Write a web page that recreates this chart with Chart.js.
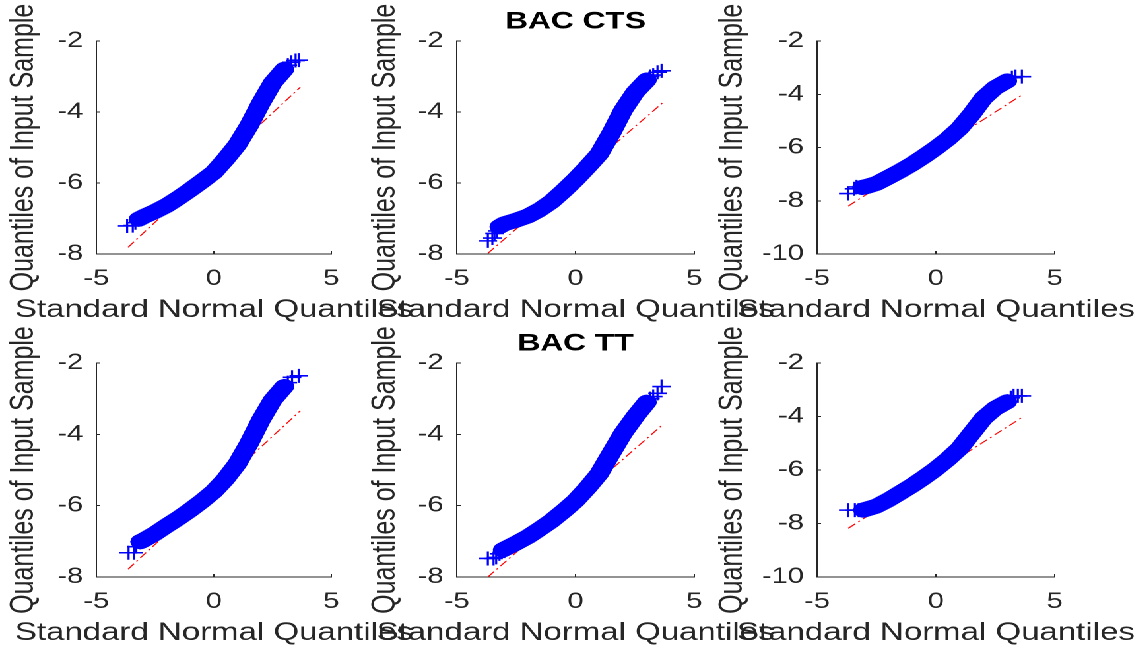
<!DOCTYPE html>
<html>
<head>
<meta charset="utf-8">
<script src="https://cdn.jsdelivr.net/npm/chart.js@4/dist/chart.umd.min.js"></script>
<style>
  html, body { margin: 0; padding: 0; background: #ffffff; overflow: hidden; }
  body { width: 1140px; height: 646px; position: relative; }
  #stage { position: absolute; left: 0; top: 0; height: 646px; transform-origin: 0 0; }
  #stage canvas { position: absolute; }
</style>
</head>
<body>
<div id="stage"></div>
<script>
// ---------------- data ----------------
const xTicks  = [-5, 0, 5];
const yTicks8 = [-8, -6, -4, -2];
const yTicks10 = [-10, -8, -6, -4, -2];
const panelTitles = ['', 'BAC CTS', '', '', 'BAC TT', ''];
const xLabel = 'Standard Normal Quantiles';
const yLabel = 'Quantiles of Input Sample';

// panel 1 (top-left)
const bandX1 = [-3.2, -3.0, -2.5, -2.0, -1.5, -1.0, -0.5, 0, 0.5, 1.0, 1.5, 2.0, 2.5, 3.0];
const bandY1 = [-7.02, -6.95, -6.80, -6.63, -6.42, -6.19, -5.95, -5.70, -5.33, -4.92, -4.38, -3.75, -3.18, -2.80];
const tailX1 = [-3.69, -3.45, -3.34, 3.15, 3.30, 3.48, 3.61];
const tailY1 = [-7.21, -7.20, -7.12, -2.68, -2.60, -2.55, -2.54];
const refX1 = [-3.65, 3.68], refY1 = [-7.81, -3.30];

// panel 2 (top-middle, BAC CTS)
const bandX2 = [-3.2, -3.0, -2.5, -2.0, -1.5, -1.0, -0.5, 0, 0.5, 1.0, 1.5, 2.0, 2.5, 3.0];
const bandY2 = [-7.23, -7.15, -7.05, -6.93, -6.75, -6.52, -6.22, -5.90, -5.55, -5.18, -4.60, -3.95, -3.45, -3.10];
const tailX2 = [-3.69, -3.50, -3.41, -3.30, 3.15, 3.27, 3.45, 3.62];
const tailY2 = [-7.63, -7.55, -7.42, -7.35, -3.00, -2.96, -2.88, -2.84];
const refX2 = [-3.69, 3.65], refY2 = [-7.98, -3.75];

// panel 3 (top-right)
const bandX3 = [-3.1, -2.9, -2.5, -2.0, -1.5, -1.0, -0.5, 0, 0.5, 1.0, 1.5, 2.0, 2.5, 3.0];
const bandY3 = [-7.50, -7.46, -7.35, -7.12, -6.88, -6.62, -6.33, -6.02, -5.68, -5.28, -4.75, -4.15, -3.75, -3.50];
const tailX3 = [-3.69, -3.45, -3.34, 3.20, 3.35, 3.62];
const tailY3 = [-7.73, -7.55, -7.48, -3.38, -3.34, -3.34];
const refX3 = [-3.69, 3.67], refY3 = [-8.20, -4.00];

// panel 4 (bottom-left)
const bandX4 = [-3.13, -3.0, -2.5, -2.0, -1.5, -1.0, -0.5, 0, 0.5, 1.0, 1.5, 2.0, 2.5, 3.0];
const bandY4 = [-7.01, -6.97, -6.78, -6.56, -6.35, -6.12, -5.87, -5.60, -5.25, -4.82, -4.25, -3.60, -3.04, -2.66];
const tailX4 = [-3.63, -3.41, -3.30, 3.15, 3.33, 3.61];
const tailY4 = [-7.32, -7.32, -7.15, -2.55, -2.40, -2.36];
const refX4 = [-3.65, 3.68], refY4 = [-7.78, -3.34];

// panel 5 (bottom-middle, BAC TT)
const bandX5 = [-3.06, -2.5, -2.0, -1.5, -1.0, -0.5, 0, 0.5, 1.0, 1.5, 2.0, 2.5, 3.0];
const bandY5 = [-7.24, -7.05, -6.87, -6.65, -6.42, -6.15, -5.86, -5.50, -5.10, -4.53, -3.97, -3.51, -3.10];
const tailX5 = [-3.69, -3.45, -3.34, -3.20, 3.15, 3.27, 3.45, 3.62];
const tailY5 = [-7.48, -7.48, -7.45, -7.35, -3.00, -2.94, -2.85, -2.66];
const refX5 = [-3.69, 3.65], refY5 = [-8.00, -3.74];

// panel 6 (bottom-right)
const bandX6 = [-3.06, -2.5, -2.0, -1.5, -1.0, -0.5, 0, 0.5, 1.0, 1.5, 2.0, 2.5, 3.0];
const bandY6 = [-7.50, -7.35, -7.12, -6.85, -6.58, -6.28, -5.96, -5.60, -5.19, -4.63, -4.07, -3.69, -3.45];
const tailX6 = [-3.69, -3.41, -3.25, 3.15, 3.27, 3.45, 3.62];
const tailY6 = [-7.50, -7.50, -7.50, -3.30, -3.23, -3.23, -3.23];
const refX6 = [-3.69, 3.67], refY6 = [-8.18, -4.01];

// ---------------- layout / style ----------------
const SX = 1.32;                 // the reference is rendered horizontally stretched
const STAGE_W = 1140 / SX;
const rows = [{ T: 41, B: 254 }, { T: 363, B: 577 }];
const cols = [{ L: 73, R: 251, D: 55 }, { L: 346, R: 526, D: 54 }, { L: 619, R: 799, D: 64 }];
const PT = 40, PR = 62, HX = 71, TITLE_H = 33;
const FONT = "'Liberation Sans', Arial, Helvetica, sans-serif";
const AXIS = '#262626';

const pts = (xs, ys) => xs.map((x, i) => ({ x: x, y: ys[i] }));

const panels = [
  { bx: bandX1, by: bandY1, tx: tailX1, ty: tailY1, rx: refX1, ry: refY1, yt: yTicks8 },
  { bx: bandX2, by: bandY2, tx: tailX2, ty: tailY2, rx: refX2, ry: refY2, yt: yTicks8 },
  { bx: bandX3, by: bandY3, tx: tailX3, ty: tailY3, rx: refX3, ry: refY3, yt: yTicks10 },
  { bx: bandX4, by: bandY4, tx: tailX4, ty: tailY4, rx: refX4, ry: refY4, yt: yTicks8 },
  { bx: bandX5, by: bandY5, tx: tailX5, ty: tailY5, rx: refX5, ry: refY5, yt: yTicks8 },
  { bx: bandX6, by: bandY6, tx: tailX6, ty: tailY6, rx: refX6, ry: refY6, yt: yTicks10 }
];

// let long axis titles overflow their axis instead of being squeezed
const noSqueeze = {
  id: 'noSqueeze',
  beforeDraw(chart) {
    const ctx = chart.ctx;
    if (!ctx.__noSqueeze) {
      const orig = ctx.fillText;
      ctx.fillText = function (t, x, y) { return orig.call(this, t, x, y); };
      ctx.__noSqueeze = true;
    }
  }
};

const stage = document.getElementById('stage');
stage.style.width = STAGE_W + 'px';
stage.style.transform = 'scaleX(' + SX + ')';

panels.forEach((p, i) => {
  const r = rows[Math.floor(i / 3)], c = cols[i % 3];
  const title = panelTitles[i];
  const tb = title ? TITLE_H : 0;
  const WY = c.D + 15;
  const left = c.L - WY, top = r.T - PT - tb;
  const w = WY + (c.R - c.L) + PR, h = tb + PT + (r.B - r.T) + HX;

  const cv = document.createElement('canvas');
  cv.width = w; cv.height = h;
  cv.style.left = left + 'px'; cv.style.top = top + 'px';
  cv.style.width = w + 'px'; cv.style.height = h + 'px';
  stage.appendChild(cv);

  new Chart(cv.getContext('2d'), {
    type: 'scatter',
    data: {
      datasets: [
        { data: pts(p.bx, p.by), showLine: true, borderColor: '#0000ff', borderWidth: 15,
          borderJoinStyle: 'round', borderCapStyle: 'round',
          pointStyle: 'cross', pointRadius: 7.5, pointBorderWidth: 1.5, pointBorderColor: '#0000ff' },
        { data: pts(p.tx, p.ty), showLine: false,
          pointStyle: 'cross', pointRadius: 7, pointBorderWidth: 1.6, pointBorderColor: '#0000ff', pointBackgroundColor: '#0000ff' },
        { data: pts(p.rx, p.ry), showLine: true, borderColor: '#ff0000', borderWidth: 1,
          borderDash: [7, 3, 1.5, 3], pointRadius: 0 }
      ]
    },
    options: {
      responsive: false,
      animation: false,
      devicePixelRatio: 2,
      events: [],
      layout: { padding: { left: 0, top: PT, right: PR, bottom: 0 } },
      plugins: {
        legend: { display: false },
        tooltip: { enabled: false },
        title: {
          display: !!title, text: title, fullSize: false, color: '#000000',
          font: { family: FONT, size: 24, weight: 'bold', lineHeight: '28px' },
          padding: { top: 0, bottom: 5 }
        }
      },
      scales: {
        x: {
          type: 'linear', position: 'bottom', min: -5, max: 5,
          afterBuildTicks: s => { s.ticks = xTicks.map(v => ({ value: v })); },
          afterFit: s => { s.height = HX; },
          grid: { display: true, drawOnChartArea: false, drawTicks: true, tickLength: -3, color: AXIS, lineWidth: 1 },
          border: { display: true, color: AXIS, width: 1 },
          ticks: { color: AXIS, padding: 15, maxRotation: 0, font: { family: FONT, size: 22, lineHeight: '26px' } },
          title: { display: true, text: xLabel, color: AXIS, padding: 0,
                   font: { family: FONT, size: 25, lineHeight: '30px' } }
        },
        y: {
          type: 'linear', position: 'left', min: p.yt[0], max: p.yt[p.yt.length - 1],
          afterBuildTicks: s => { s.ticks = p.yt.map(v => ({ value: v })); },
          afterFit: s => { s.width = WY; },
          grid: { display: true, drawOnChartArea: false, drawTicks: true, tickLength: -3, color: AXIS, lineWidth: 1 },
          border: { display: true, color: AXIS, width: 1 },
          ticks: { color: AXIS, padding: 13, font: { family: FONT, size: 22, lineHeight: '26px' } },
          title: { display: true, text: yLabel, color: AXIS, padding: 0,
                   font: { family: FONT, size: 25, lineHeight: '30px' } }
        }
      }
    },
    plugins: [noSqueeze]
  });
});
</script>
</body>
</html>
